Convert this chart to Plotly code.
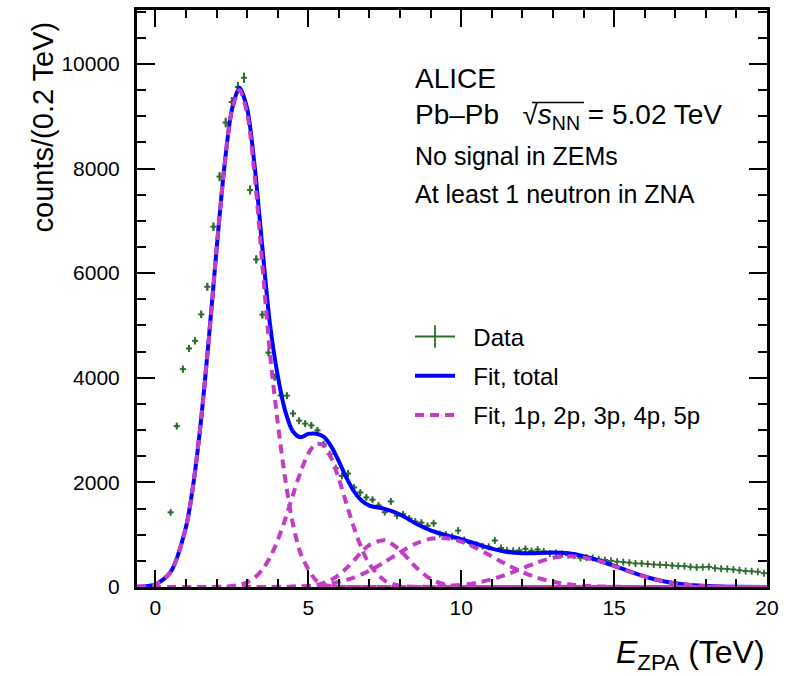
import plotly.graph_objects as go

# ---------------- data ----------------
DATA_X = [0.5, 0.7, 0.9, 1.1, 1.3, 1.5, 1.7, 1.9, 2.1, 2.3, 2.5, 2.7, 2.9, 3.1, 3.3, 3.5, 3.7, 3.9,
          4.1, 4.3, 4.5, 4.7, 4.9, 5.1, 5.3, 5.5, 5.7, 5.9, 6.1, 6.3, 6.5, 6.7, 6.9, 7.1, 7.3, 7.5,
          7.7, 7.9, 8.1, 8.3, 8.5, 8.7, 8.9, 9.1, 9.3, 9.5, 9.7, 9.9, 10.1, 10.3, 10.5, 10.7, 10.9,
          11.1, 11.3, 11.5, 11.7, 11.9, 12.1, 12.3, 12.5, 12.7, 12.9, 13.1, 13.3, 13.5, 13.7, 13.9,
          14.1, 14.3, 14.5, 14.7, 14.9, 15.1, 15.3, 15.5, 15.7, 15.9, 16.1, 16.3, 16.5, 16.7, 16.9,
          17.1, 17.3, 17.5, 17.7, 17.9, 18.1, 18.3, 18.5, 18.7, 18.9, 19.1, 19.3, 19.5, 19.7, 19.9]
DATA_Y = [1427, 3076, 4165, 4560, 4706, 5212, 5739, 6887, 7845, 8878, 9270, 9560, 9734, 7590, 6262,
          5206, 4480, 4011, 3663, 3657, 3317, 3180, 3123, 3089, 2994, 2728, 2538, 2271, 2125, 2169,
          1902, 1807, 1712, 1668, 1560, 1430, 1636, 1364, 1390, 1310, 1250, 1230, 1170, 1218, 1010,
          1000, 960, 1078, 900, 835, 810, 780, 770, 890, 745, 700, 690, 700, 730, 690, 717, 680, 640,
          650, 630, 610, 600, 555, 560, 555, 530, 515, 500, 485, 476, 465, 450, 450, 440, 430, 425,
          420, 410, 400, 400, 385, 375, 380, 385, 360, 350, 345, 335, 320, 305, 300, 290, 265]

FIT_X = [-0.6, 0, 0.5, 1, 1.25, 1.5, 1.75, 2, 2.25, 2.5, 2.75, 3, 3.25, 3.5, 3.75, 4, 4.25, 4.5,
         4.75, 5, 5.25, 5.5, 5.75, 6, 6.25, 6.5, 6.75, 7, 7.5, 8, 8.5, 9, 9.5, 10, 10.5, 11, 11.5,
         12, 12.5, 13, 13.5, 14, 14.5, 15, 15.5, 16, 16.5, 17, 17.5, 18, 18.5, 19, 20]
FIT_TOTAL = [4, 51, 287, 1141, 2002, 3222, 4755, 6440, 7997, 9116, 9542, 9151, 8031, 6482, 5016,
             4046, 3358, 2972, 2862, 2927, 2931, 2874, 2688, 2401, 2086, 1823, 1647, 1554, 1494,
             1387, 1218, 1082, 993, 915, 824, 733, 670, 644, 649, 659, 643, 590, 507, 405, 297,
             201, 124, 71, 37, 18, 8, 3, 0]
FIT_1P = [4, 51, 287, 1141, 2002, 3222, 4755, 6437, 7990, 9098, 9500, 9060, 7850, 6150, 4450, 3150,
          2050, 1200, 640, 340, 130, 45, 15, 5, 1, 0, 0, 0, 0, 0, 0, 0, 0, 0, 0, 0, 0, 0, 0, 0, 0,
          0, 0, 0, 0, 0, 0, 0, 0, 0, 0, 0, 0]
FIT_2P = [0, 0, 0, 0, 0, 0, 0, 3, 7, 18, 42, 91, 181, 332, 566, 893, 1303, 1761, 2202, 2550, 2733,
          2709, 2468, 2067, 1591, 1125, 732, 437, 121, 24, 3, 0, 0, 0, 0, 0, 0, 0, 0, 0, 0, 0, 0,
          0, 0, 0, 0, 0, 0, 0, 0, 0, 0]
FIT_3P = [0, 0, 0, 0, 0, 0, 0, 0, 0, 0, 0, 0, 0, 0, 0, 0, 0, 3, 7, 17, 37, 74, 137, 232, 360, 514,
          672, 805, 894, 702, 390, 153, 42, 8, 1, 0, 0, 0, 0, 0, 0, 0, 0, 0, 0, 0, 0, 0, 0, 0, 0,
          0, 0]
FIT_4P = [0, 0, 0, 0, 0, 0, 0, 0, 0, 0, 0, 0, 0, 0, 0, 3, 5, 8, 13, 20, 31, 46, 68, 97, 135, 184,
          243, 312, 479, 661, 823, 922, 934, 868, 743, 586, 427, 286, 176, 101, 53, 25, 11, 5, 2,
          1, 0, 0, 0, 0, 0, 0, 0]
FIT_5P = [0, 0, 0, 0, 0, 0, 0, 0, 0, 0, 0, 0, 0, 0, 0, 0, 0, 0, 0, 0, 0, 0, 0, 0, 0, 0, 0, 0, 0,
          0, 2, 7, 17, 39, 80, 147, 243, 358, 473, 558, 590, 565, 496, 400, 295, 200, 124, 71, 37,
          18, 8, 3, 0]
COMPONENTS = [FIT_1P, FIT_2P, FIT_3P, FIT_4P, FIT_5P]

X_TICKS = [0, 5, 10, 15, 20]
Y_TICKS = [0, 2000, 4000, 6000, 8000, 10000]
Y_TICKTEXT = ["0", "2000", "4000", "6000", "8000", "10000"]

GREEN = "#2e6b2e"
BLUE = "#0000ff"
MAGENTA = "#c43cc4"
FONT = "Liberation Sans, Arial, sans-serif"
NB = "\u00a0\u00a0"  # gap between legend symbol and text

fig = go.Figure()

# data histogram points with error bars
fig.add_trace(go.Scatter(
    x=DATA_X, y=DATA_Y, mode="markers", showlegend=False,
    marker=dict(symbol="line-ns", size=5, color=GREEN, line=dict(color=GREEN, width=1.8)),
    error_x=dict(type="constant", value=0.1, width=0, thickness=2, color=GREEN),
    error_y=dict(type="sqrt", width=0, thickness=2, color=GREEN),
))
# legend entry for data
fig.add_trace(go.Scatter(
    x=[None], y=[None], mode="lines+markers", name=NB + "Data", legendgroup="a",
    line=dict(color=GREEN, width=1.8),
    marker=dict(symbol="line-ns", size=16, line=dict(color=GREEN, width=1.8)),
))
# total fit
fig.add_trace(go.Scatter(
    x=FIT_X, y=FIT_TOTAL, mode="lines", name=NB + "Fit, total", legendgroup="b",
    line=dict(color=BLUE, width=4, shape="spline", smoothing=0.8),
))
# components
for i, comp in enumerate(COMPONENTS):
    fig.add_trace(go.Scatter(
        x=FIT_X, y=comp, mode="lines", name=NB + "Fit, 1p, 2p, 3p, 4p, 5p", legendgroup="c",
        showlegend=(i == 0),
        line=dict(color=MAGENTA, width=4, dash="9px,6px", shape="spline", smoothing=0.8),
    ))

axis_common = dict(
    showline=True, linecolor="black", linewidth=3, mirror="ticks",
    ticks="inside", tickcolor="black", tickwidth=2, showgrid=False, zeroline=False,
    tickfont=dict(family=FONT, size=21, color="black"),
)
fig.update_xaxes(range=[-0.6, 20], tickvals=X_TICKS, ticklen=17, ticklabelstandoff=0,
                 minor=dict(ticks="inside", dtick=1, tick0=0, ticklen=8, tickwidth=2, tickcolor="black"),
                 **axis_common)
fig.update_yaxes(range=[0, 11030], tickvals=Y_TICKS, ticktext=Y_TICKTEXT, ticklen=18,
                 ticklabelstandoff=10,
                 minor=dict(ticks="inside", dtick=500, tick0=0, ticklen=9, tickwidth=2, tickcolor="black"),
                 **axis_common)

L, R, T, B = 137, 23, 7, 89
W, H = 790, 676
pw, ph = W - L - R, H - T - B


def px(xp):
    return (xp - L) / pw


def py(yp):
    return (H - B - yp) / ph


annots = [
    dict(text="ALICE", x=px(413), y=py(76), size=28),
    dict(text="Pb–Pb   √<i>s</i><sub>NN</sub> = 5.02 TeV", x=px(413), y=py(114), size=28),
    dict(text="No signal in ZEMs", x=px(413), y=py(154), size=25),
    dict(text="At least 1 neutron in ZNA", x=px(413), y=py(192), size=25),
]
for a in annots:
    fig.add_annotation(text=a["text"], x=a["x"], y=a["y"], xref="paper", yref="paper",
                       xanchor="left", yanchor="middle", showarrow=False,
                       font=dict(family=FONT, size=a["size"], color="black"))

# overline of the square root sign
fig.add_shape(type="line", xref="paper", yref="paper", x0=px(532), x1=px(584),
              y0=py(100), y1=py(100), line=dict(color="black", width=1.6))

fig.add_annotation(text="counts/(0.2 TeV)", textangle=-90, x=px(43), y=py(125),
                   xref="paper", yref="paper", xanchor="center", yanchor="middle",
                   showarrow=False, font=dict(family=FONT, size=29, color="black"))
fig.add_annotation(text="<i>E</i><sub>ZPA</sub> (TeV)", x=px(767), y=py(655),
                   xref="paper", yref="paper", xanchor="right", yanchor="middle",
                   showarrow=False, font=dict(family=FONT, size=32, color="black"))

fig.update_layout(
    width=W, height=H, margin=dict(l=L, r=R, t=T, b=B),
    paper_bgcolor="white", plot_bgcolor="white",
    legend=dict(x=px(410), y=py(313), xanchor="left", yanchor="top",
                font=dict(family=FONT, size=24, color="black"), bgcolor="rgba(0,0,0,0)",
                tracegroupgap=5, itemwidth=40),
)

fig.write_html("out.html", config={"displayModeBar": False},
               post_script="document.body.style.margin='0px';")
